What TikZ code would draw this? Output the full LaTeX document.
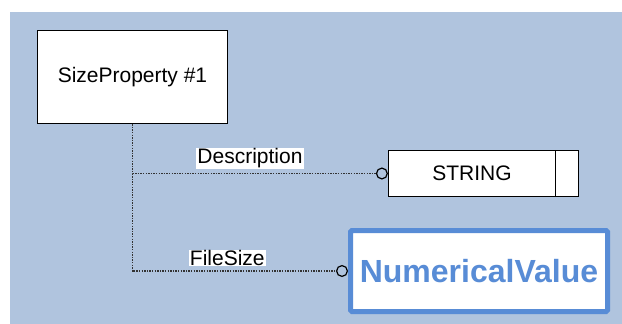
\documentclass[tikz,border=0pt]{standalone}
\usepackage{fontspec}
\setmainfont{Liberation Sans}
\usepackage{xcolor}
\usetikzlibrary{arrows.meta, positioning}
\definecolor{panel}{RGB}{176,196,222}
\definecolor{valblue}{RGB}{88,140,214}

\begin{document}
\begin{tikzpicture}[x=1pt,y=-1pt,
  box/.style={draw,fill=white,line width=1.2pt,font=\fontsize{21}{25}\selectfont},
  role/.style={fill=white,inner xsep=1pt,inner ysep=0.5pt,font=\fontsize{21}{25}\selectfont},
  link/.style={draw=black!80,line width=1.4pt,dash pattern=on 1.4pt off 1.2pt,
    -{Circle[open,length=12pt,width=12pt,line width=1.2pt,color=black]}}]
  \useasboundingbox[fill=white] (0,0) rectangle (622,324);
  \fill[panel] (10,12) rectangle (622,324);
  \node[box,minimum width=190pt,minimum height=93pt] (size) at (132.5,77) {SizeProperty \#1};
  \node[box,minimum width=167pt,minimum height=46pt] (str) at (472,173.5) {STRING};
  \node[box,minimum width=23pt,minimum height=46pt,right=-1.2pt of str] (strend) {};
  \node[draw=valblue,line width=5pt,fill=white,rounded corners=1.5pt,
        minimum width=257pt,minimum height=81pt,text=valblue,
        font=\fontsize{32}{37}\selectfont\bfseries] (num) at (479,271) {NumericalValue};
  \draw[link] (size.south) |- node[role,pos=0.73,above=4pt] (desc) {Description} (str.west);
  \draw[link] (size.south) |- node[role,pos=0.72,above=4pt] (fsize) {FileSize} (num.west);
\end{tikzpicture}
\end{document}
